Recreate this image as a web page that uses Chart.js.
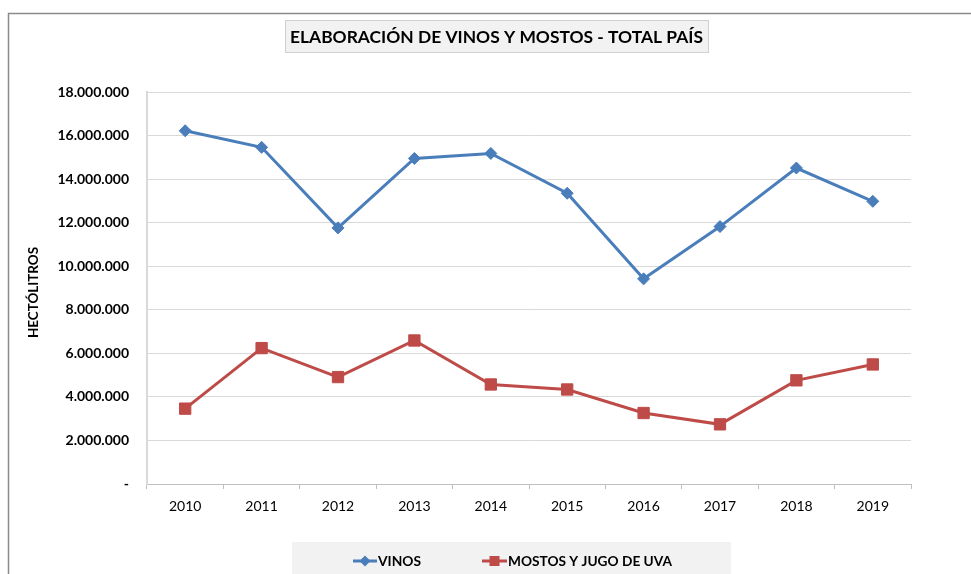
<!DOCTYPE html>
<html><head><meta charset="utf-8">
<script src="https://cdn.jsdelivr.net/npm/chart.js@4.4.1/dist/chart.umd.min.js"></script>
<style>html,body{margin:0;padding:0;background:#fff;overflow:hidden}canvas{display:block}</style>
</head><body>
<canvas id="c" width="971" height="574"></canvas>
<script>
const years = ['2010','2011','2012','2013','2014','2015','2016','2017','2018','2019'];
const vinos = [16220000, 15460000, 11760000, 14950000, 15180000, 13350000, 9420000, 11820000, 14510000, 12980000];
const mostos = [3460000, 6240000, 4910000, 6590000, 4570000, 4340000, 3260000, 2740000, 4760000, 5490000];
const yTickLabels = ['-', '2.000.000', '4.000.000', '6.000.000', '8.000.000', '10.000.000', '12.000.000', '14.000.000', '16.000.000', '18.000.000'];
const chartTitle = 'ELABORACIÓN DE VINOS Y MOSTOS - TOTAL PAÍS';
const yAxisTitle = 'HECTÓLITROS';
const seriesNames = ['VINOS', 'MOSTOS Y JUGO DE UVA'];

const BLUE = '#4a7ebb';
const RED = '#be4b48';

function fitText(ctx, text, x, y, width, font, color) {
  ctx.save();
  ctx.font = font;
  ctx.fillStyle = color || '#000';
  ctx.textAlign = 'left';
  ctx.textBaseline = 'alphabetic';
  const w = ctx.measureText(text).width;
  ctx.translate(x, y);
  ctx.scale(width / w, 1);
  ctx.fillText(text, 0, 0);
  ctx.restore();
}

const decor = {
  id: 'decor',
  beforeDraw(chart) {
    const ctx = chart.ctx;
    ctx.save();
    ctx.fillStyle = '#fff';
    ctx.fillRect(0, 0, chart.width, chart.height);
    // outer border
    ctx.strokeStyle = '#8a8a8a';
    ctx.lineWidth = 1.5;
    ctx.beginPath();
    ctx.moveTo(8.5, 574);
    ctx.lineTo(8.5, 13.5);
    ctx.lineTo(971, 13.5);
    ctx.stroke();
    // title box
    ctx.fillStyle = '#f2f2f2';
    ctx.fillRect(285, 20, 424, 33);
    ctx.strokeStyle = '#d0d0d0';
    ctx.lineWidth = 1;
    ctx.strokeRect(285.5, 20.5, 423, 32);
    // legend box
    ctx.fillStyle = '#f2f2f2';
    ctx.fillRect(292, 542, 439, 40);
    ctx.restore();
  },
  afterDraw(chart) {
    const ctx = chart.ctx;
    // title
    fitText(ctx, chartTitle, 290, 43, 413, 'bold 17px Lato', '#000');
    // y axis title (rotated)
    ctx.save();
    ctx.translate(38, 338);
    ctx.rotate(-Math.PI / 2);
    fitText(ctx, yAxisTitle, 0, 0, 91, 'bold 13px Lato', '#000');
    ctx.restore();
    // legend
    const ds = chart.data.datasets;
    const items = [
      {lx0: 353, lx1: 377, tx: 378, tw: 43},
      {lx0: 482, lx1: 507, tx: 508, tw: 164}
    ];
    ds.forEach((d, i) => {
      const it = items[i];
      const cy = 561;
      ctx.save();
      ctx.strokeStyle = d.borderColor;
      ctx.lineWidth = 3;
      ctx.beginPath();
      ctx.moveTo(it.lx0, cy);
      ctx.lineTo(it.lx1, cy);
      ctx.stroke();
      ctx.fillStyle = d.borderColor;
      const cx = (it.lx0 + it.lx1) / 2;
      if (d.pointStyle === 'rectRot') {
        ctx.beginPath();
        ctx.moveTo(cx, cy - 5.5);
        ctx.lineTo(cx + 5.5, cy);
        ctx.lineTo(cx, cy + 5.5);
        ctx.lineTo(cx - 5.5, cy);
        ctx.closePath();
        ctx.fill();
      } else {
        ctx.fillRect(cx - 5, cy - 5, 10, 10);
      }
      ctx.restore();
      fitText(ctx, d.label, it.tx, 566, it.tw, 'bold 14px Lato', '#000');
    });
  }
};

new Chart(document.getElementById('c'), {
  type: 'line',
  data: {
    labels: years,
    datasets: [
      {
        label: seriesNames[0],
        data: vinos,
        borderColor: BLUE,
        backgroundColor: BLUE,
        borderWidth: 3,
        pointStyle: 'rectRot',
        pointRadius: 6,
        pointBorderWidth: 1,
        pointBackgroundColor: BLUE,
        pointBorderColor: BLUE,
        tension: 0,
        fill: false
      },
      {
        label: seriesNames[1],
        data: mostos,
        borderColor: RED,
        backgroundColor: RED,
        borderWidth: 3,
        pointStyle: 'rect',
        pointRadius: 8,
        pointBorderWidth: 1,
        pointBackgroundColor: RED,
        pointBorderColor: RED,
        tension: 0,
        fill: false
      }
    ]
  },
  options: {
    responsive: false,
    animation: false,
    devicePixelRatio: 1,
    layout: {padding: {top: 92, right: 60, left: 0, bottom: 0}},
    plugins: {
      legend: {display: false},
      title: {display: false},
      tooltip: {enabled: false}
    },
    scales: {
      x: {
        type: 'category',
        offset: true,
        afterFit(scale) { scale.height = 90; },
        grid: {
          offset: true,
          drawOnChartArea: false,
          drawTicks: true,
          tickLength: 5,
          color: '#bfbfbf',
          lineWidth: 1
        },
        border: {color: '#bfbfbf', width: 1},
        ticks: {
          color: '#000',
          font: {family: 'Lato', size: 14},
          padding: 9,
          maxRotation: 0,
          autoSkip: false
        }
      },
      y: {
        min: 0,
        max: 18000000,
        afterFit(scale) { scale.width = 147; },
        grid: {
          color: '#d9d9d9',
          lineWidth: 1,
          drawTicks: false
        },
        border: {color: '#d9d9d9', width: 2},
        ticks: {
          stepSize: 2000000,
          color: '#000',
          font: {family: 'Lato', size: 14, weight: 'bold'},
          padding: 18,
          callback: (v, i) => yTickLabels[i]
        }
      }
    }
  },
  plugins: [decor]
});
</script>
</body></html>
